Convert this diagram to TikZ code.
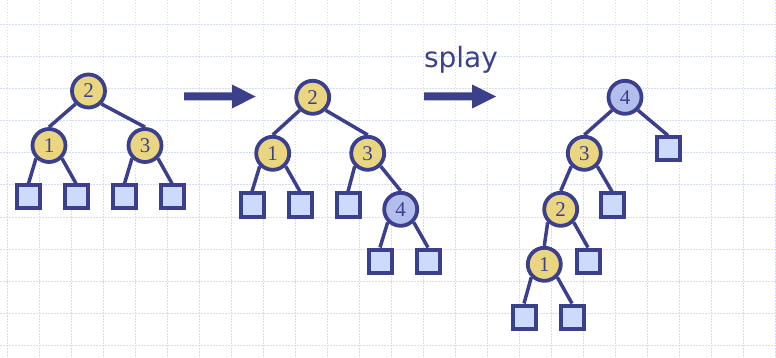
\documentclass[tikz,border=0pt]{standalone}
\usepackage{fontspec}
\setmainfont{Liberation Serif}
\newfontfamily\splayfont{DejaVu Sans}
\definecolor{navy}{RGB}{60,64,140}
\definecolor{gold}{RGB}{234,214,128}
\definecolor{paleblue}{RGB}{206,218,250}
\definecolor{lavender}{RGB}{180,190,236}
\definecolor{gridblue}{RGB}{212,219,246}
\begin{document}
\begin{tikzpicture}[x=1pt,y=-1pt,
  keynode/.style={circle,draw=navy,line width=3.8pt,fill=gold,minimum size=33pt,inner sep=0pt,
    text=navy,font=\fontsize{21}{21}\selectfont},
  newnode/.style={keynode,fill=lavender},
  leaf/.style={rectangle,draw=navy,line width=4pt,fill=paleblue,minimum size=23pt,inner sep=0pt},
  edge/.style={draw=navy,line width=3.5pt},
  bigarrow/.style={fill=navy,draw=none},
  gridline/.style={draw=gridblue,line width=1pt,dash pattern=on 1.5pt off 1.5pt}]
\useasboundingbox (0,0) rectangle (776,358);
\fill[white] (0,0) rectangle (776,358);
% background grid
\foreach \k in {0,...,24} \draw[gridline] (7.5+32*\k,0) -- (7.5+32*\k,358);
\foreach \k in {0,...,10} \draw[gridline] (0,25+32*\k) -- (776,25+32*\k);

% first tree
\node[keynode] (a2) at (88.5,91) {2};
\node[keynode] (a1) at (49,145.5) {1};
\node[keynode] (a3) at (145,145.5) {3};
\node[leaf] (al1) at (28.5,197) {};
\node[leaf] (al2) at (76,197) {};
\node[leaf] (al3) at (124.5,197) {};
\node[leaf] (al4) at (172,197) {};
\draw[edge] (a2.south west) -- (a1.north);
\draw[edge] (a2.south east) -- (a3.north);
\draw[edge] (a1.south west) -- (al1.north);
\draw[edge] (a1.south east) -- (al2.north);
\draw[edge] (a3.south west) -- (al3.north);
\draw[edge] (a3.south east) -- (al4.north);

% first arrow
\fill[bigarrow] (184,92.5) -- (232,92.5) -- (232,84.5) -- (255.5,96.5) -- (232,108.5) -- (232,100.5) -- (184,100.5) -- cycle;

% second tree: 4 inserted below 3
\node[keynode] (b2) at (312.7,97.3) {2};
\node[keynode] (b1) at (272.7,153.3) {1};
\node[keynode] (b3) at (367.7,153.3) {3};
\node[newnode] (b4) at (400.7,209.3) {4};
\node[leaf] (bl1) at (252,205) {};
\node[leaf] (bl2) at (300,205) {};
\node[leaf] (bl3) at (348,205) {};
\node[leaf] (bl4) at (380,261) {};
\node[leaf] (bl5) at (428,261) {};
\draw[edge] (b2.south west) -- (b1.north);
\draw[edge] (b2.south east) -- (b3.north);
\draw[edge] (b1.south west) -- (bl1.north);
\draw[edge] (b1.south east) -- (bl2.north);
\draw[edge] (b3.south west) -- (bl3.north);
\draw[edge] (b3.south east) -- (b4.north);
\draw[edge] (b4.south west) -- (bl4.north);
\draw[edge] (b4.south east) -- (bl5.north);

% splay arrow
\node[text=navy,font=\splayfont\fontsize{28}{28}\selectfont,anchor=base] (lbl) at (461,67.5) {splay};
\fill[bigarrow] (424,92.5) -- (472,92.5) -- (472,84.5) -- (496,96.5) -- (472,108.5) -- (472,100.5) -- (424,100.5) -- cycle;

% third tree after splaying 4
\node[newnode] (c4) at (625,97.3) {4};
\node[keynode] (c3) at (584.3,153.3) {3};
\node[keynode] (c2) at (560.7,209.3) {2};
\node[keynode] (c1) at (544.3,264.3) {1};
\node[leaf] (cl1) at (668,149) {};
\node[leaf] (cl2) at (612,205) {};
\node[leaf] (cl3) at (588,261) {};
\node[leaf] (cl4) at (524,317) {};
\node[leaf] (cl5) at (572,317) {};
\draw[edge] (c4.south west) -- (c3.north);
\draw[edge] (c4.south east) -- (cl1.north);
\draw[edge] (c3.south west) -- (c2.north);
\draw[edge] (c3.south east) -- (cl2.north);
\draw[edge] (c2.south west) -- (c1.north);
\draw[edge] (c2.south east) -- (cl3.north);
\draw[edge] (c1.south west) -- (cl4.north);
\draw[edge] (c1.south east) -- (cl5.north);
\end{tikzpicture}
\end{document}
